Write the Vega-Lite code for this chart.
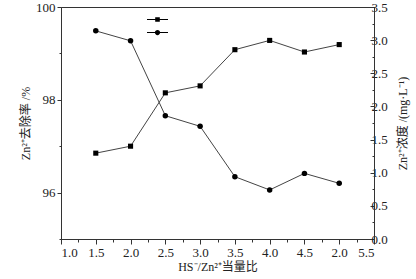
{
  "$schema": "https://vega.github.io/schema/vega-lite/v6.json",
  "autosize": {"type": "none"},
  "padding": {"left": 61, "top": 7, "right": 42, "bottom": 40},
  "width": 313,
  "height": 232,
  "background": "white",
  "config": {
    "view": {"stroke": "#333", "strokeWidth": 1},
    "axis": {
      "labelFont": "Liberation Serif",
      "labelFontSize": 13,
      "labelColor": "#222",
      "titleFont": "Liberation Serif, Noto Sans CJK SC",
      "titleFontSize": 12,
      "titleFontWeight": "normal",
      "titleColor": "#222",
      "domainColor": "#333",
      "tickColor": "#333",
      "grid": false,
      "labelOverlap": false,
      "labelPadding": 2
    }
  },
  "data": {
    "values": [
      {"ratio": 1.5, "removal": 96.85, "conc": 3.14},
      {"ratio": 2.0, "removal": 97.0, "conc": 2.99},
      {"ratio": 2.5, "removal": 98.15, "conc": 1.86},
      {"ratio": 3.0, "removal": 98.3, "conc": 1.7},
      {"ratio": 3.5, "removal": 99.08, "conc": 0.94},
      {"ratio": 4.0, "removal": 99.28, "conc": 0.74},
      {"ratio": 4.5, "removal": 99.03, "conc": 0.99},
      {"ratio": 5.0, "removal": 99.19, "conc": 0.84}
    ]
  },
  "encoding": {
    "x": {
      "field": "ratio",
      "type": "quantitative",
      "scale": {"domain": [1.0, 5.5], "nice": false, "zero": false},
      "axis": {
        "title": "HS⁻/Zn²⁺当量比",
        "values": [1.0, 1.25, 1.5, 1.75, 2.0, 2.25, 2.5, 2.75, 3.0, 3.25, 3.5, 3.75, 4.0, 4.25, 4.5, 4.75, 5.0, 5.25, 5.5],
        "labelExpr": "datum.value == 5 ? '2.0' : ((datum.value * 2) % 1 == 0 ? format(datum.value, '.1f') : '')",
        "tickSize": {"condition": {"test": "(datum.value * 2) % 1 == 0", "value": 5}, "value": 3},
        "titlePadding": 2
      }
    }
  },
  "layer": [
    {
      "encoding": {
        "y": {
          "field": "removal",
          "type": "quantitative",
          "scale": {"domain": [95, 100], "nice": false, "zero": false},
          "axis": {
            "title": "Zn²⁺去除率 /%",
            "orient": "left",
            "values": [95, 96, 97, 98, 99, 100],
            "labelExpr": "datum.value % 2 == 0 ? format(datum.value, 'd') : ''",
            "tickSize": {"condition": {"test": "datum.value % 2 == 0", "value": 4}, "value": 2},
            "titlePadding": 3
          }
        }
      },
      "layer": [
        {"mark": {"type": "line", "color": "#444", "strokeWidth": 1}},
        {"mark": {"type": "point", "shape": "square", "filled": true, "color": "black", "size": 26, "opacity": 1}}
      ]
    },
    {
      "encoding": {
        "y": {
          "field": "conc",
          "type": "quantitative",
          "scale": {"domain": [0, 3.5], "nice": false, "zero": false},
          "axis": {
            "title": "Zn²⁺浓度 /(mg·L⁻¹)",
            "orient": "right",
            "values": [0, 0.25, 0.5, 0.75, 1.0, 1.25, 1.5, 1.75, 2.0, 2.25, 2.5, 2.75, 3.0, 3.25, 3.5],
            "labelExpr": "(datum.value * 2) % 1 == 0 ? format(datum.value, '.1f') : ''",
            "tickSize": {"condition": {"test": "(datum.value * 2) % 1 == 0", "value": -4}, "value": -2},
            "labelPadding": 1,
            "titleAngle": -90,
            "titleBaseline": "top",
            "titlePadding": 10
          }
        }
      },
      "layer": [
        {"mark": {"type": "line", "color": "#444", "strokeWidth": 1}},
        {"mark": {"type": "point", "shape": "circle", "filled": true, "color": "black", "size": 30, "opacity": 1}},
        {
          "mark": {"type": "point", "filled": true, "color": "black", "opacity": 0},
          "encoding": {
            "shape": {
              "datum": "去除率",
              "type": "nominal",
              "scale": {
                "domain": ["去除率", "浓度"],
                "range": [
                  "M-1,-0.055H1V0.055H-1ZM-0.22,-0.22H0.22V0.22H-0.22Z",
                  "M-1,-0.055H1V0.055H-1ZM0.25,0A0.25,0.25,0,1,1,-0.25,0A0.25,0.25,0,1,1,0.25,0Z"
                ]
              },
              "legend": {
                "orient": "none",
                "legendX": 86,
                "legendY": 2,
                "title": null,
                "labelExpr": "''",
                "symbolSize": 441,
                "symbolFillColor": "black",
                "symbolStrokeColor": "transparent",
                "symbolStrokeWidth": 0,
                "symbolOpacity": 1,
                "rowPadding": -10,
                "padding": 0,
                "labelFontSize": 1
              }
            }
          }
        }
      ]
    }
  ],
  "resolve": {"scale": {"y": "independent"}}
}
